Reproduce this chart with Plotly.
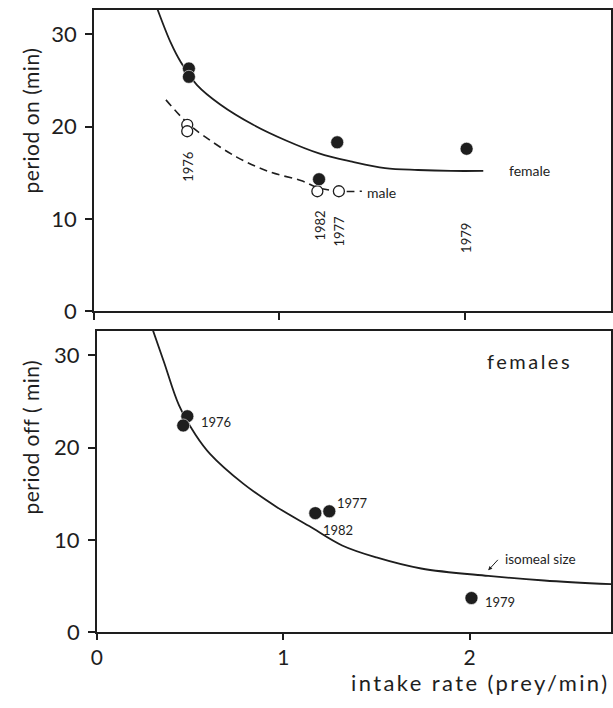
import plotly.graph_objects as go

# ---------------- data: top panel (period on) ----------------
on_female_x = [0.512, 0.512, 1.214, 1.312, 2.01]
on_female_y = [26.3, 25.4, 14.3, 18.3, 17.6]
on_male_x = [0.503, 0.503, 1.205, 1.321]
on_male_y = [20.2, 19.5, 13.0, 13.0]
on_year_labels = ["1976", "1982", "1977", "1979"]
on_year_x = [0.51, 1.22, 1.32, 2.01]
on_year_y = [15.6, 9.3, 8.7, 7.9]
female_curve_x = [0.343, 0.414, 0.468, 0.556, 0.681, 0.859, 1.036, 1.214, 1.392, 1.570, 1.748, 1.925, 2.10]
female_curve_y = [32.7, 29.1, 27.0, 24.5, 22.4, 20.2, 18.5, 17.1, 16.2, 15.5, 15.3, 15.2, 15.2]
male_curve_x = [0.388, 0.503, 0.592, 0.770, 0.948, 1.125, 1.205, 1.321, 1.445]
male_curve_y = [22.9, 20.4, 19.0, 16.7, 15.1, 14.1, 13.4, 13.0, 13.0]

# ---------------- data: bottom panel (period off) ----------------
off_x = [0.485, 0.463, 1.172, 1.247, 2.01]
off_y = [23.4, 22.4, 12.9, 13.1, 3.7]
off_year_labels = ["1976", "1977", "1982", "1979"]
off_year_x = [0.546, 1.28, 1.20, 2.07]
off_year_y = [22.8, 14.0, 11.1, 3.3]
isomeal_x = [0.299, 0.361, 0.440, 0.529, 0.608, 0.785, 0.962, 1.139, 1.316, 1.50, 1.74, 2.10, 2.40, 2.76]
isomeal_y = [32.8, 29.2, 24.6, 21.4, 19.3, 16.1, 13.6, 11.5, 9.4, 8.1, 6.9, 6.1, 5.6, 5.2]

y_ticks = [0, 10, 20, 30]
x_ticks = [0, 1, 2]

W, H = 613, 708
INK = "#1e1e1e"
FONT = "Lato"


def spaced(text, px):
    return f'<span style="letter-spacing:{px}px">{text}</span>'


fig = go.Figure()

# top panel
fig.add_trace(go.Scatter(x=female_curve_x, y=female_curve_y, mode="lines", line=dict(color=INK, width=1.8, shape="spline"),
                         xaxis="x", yaxis="y", hoverinfo="skip"))
fig.add_trace(go.Scatter(x=male_curve_x, y=male_curve_y, mode="lines", line=dict(color=INK, width=1.6, dash="8px,5px", shape="spline"),
                         xaxis="x", yaxis="y", hoverinfo="skip"))
fig.add_trace(go.Scatter(x=on_male_x, y=on_male_y, mode="markers",
                         marker=dict(symbol="circle", size=11, color="white", line=dict(color=INK, width=1.3)),
                         xaxis="x", yaxis="y"))
fig.add_trace(go.Scatter(x=on_female_x, y=on_female_y, mode="markers",
                         marker=dict(symbol="circle", size=13, color=INK, line=dict(color="white", width=0.6)),
                         xaxis="x", yaxis="y"))

# bottom panel
fig.add_trace(go.Scatter(x=isomeal_x, y=isomeal_y, mode="lines", line=dict(color=INK, width=1.8, shape="spline"),
                         xaxis="x2", yaxis="y2", hoverinfo="skip"))
fig.add_trace(go.Scatter(x=off_x, y=off_y, mode="markers",
                         marker=dict(symbol="circle", size=13, color=INK, line=dict(color="white", width=0.6)),
                         xaxis="x2", yaxis="y2"))

annotations = []
for t, x, y in zip(on_year_labels, on_year_x, on_year_y):
    annotations.append(dict(x=x, y=y, xref="x", yref="y", text=t, showarrow=False, textangle=-90,
                            xanchor="center", yanchor="middle", font=dict(family=FONT, size=13, color=INK)))
annotations.append(dict(x=2.23, y=15.3, xref="x", yref="y", text="female", showarrow=False, xanchor="left",
                        yanchor="middle", font=dict(family=FONT, size=14, color=INK)))
annotations.append(dict(x=1.46, y=12.9, xref="x", yref="y", text="male", showarrow=False, xanchor="left",
                        yanchor="middle", font=dict(family=FONT, size=14, color=INK)))
for t, x, y in zip(off_year_labels, off_year_x, off_year_y):
    annotations.append(dict(x=x, y=y, xref="x2", yref="y2", text=t, showarrow=False, xanchor="left",
                            yanchor="middle", font=dict(family=FONT, size=13, color=INK)))
annotations.append(dict(x=2.32, y=29.4, xref="x2", yref="y2", text=spaced("females", 2.5), showarrow=False,
                        xanchor="center", yanchor="middle", font=dict(family=FONT, size=20, color=INK)))
annotations.append(dict(x=2.18, y=7.9, xref="x2", yref="y2", text="isomeal size", showarrow=False, xanchor="left",
                        yanchor="middle", font=dict(family=FONT, size=13.5, color=INK)))
annotations.append(dict(x=2.10, y=6.7, xref="x2", yref="y2", text="", showarrow=True, arrowhead=2, arrowsize=0.8,
                        arrowwidth=1, arrowcolor=INK, ax=11, ay=-12))
annotations.append(dict(x=25 / W, y=1 - 123 / H, xref="paper", yref="paper", text=spaced("period on (min)", 0.5),
                        showarrow=False, textangle=-90, xanchor="center", yanchor="middle",
                        font=dict(family=FONT, size=21, color=INK)))
annotations.append(dict(x=25 / W, y=1 - 445 / H, xref="paper", yref="paper", text=spaced("period off ( min)", 0.5),
                        showarrow=False, textangle=-90, xanchor="center", yanchor="middle",
                        font=dict(family=FONT, size=21, color=INK)))
annotations.append(dict(x=479 / W, y=1 - 695 / H, xref="paper", yref="paper", text=spaced("intake rate (prey/min)", 2.4),
                        showarrow=False, xanchor="center", yanchor="middle", font=dict(family=FONT, size=22, color=INK)))

axis_common = dict(showgrid=False, zeroline=False, showline=True, linecolor=INK, linewidth=1.8,
                   ticks="outside", ticklen=7, tickwidth=1.6, tickcolor=INK,
                   tickfont=dict(family=FONT, size=22, color=INK), mirror=True, fixedrange=True)

fig.update_layout(
    width=W, height=H, margin=dict(l=0, r=0, t=0, b=0),
    paper_bgcolor="white", plot_bgcolor="white", showlegend=False,
    annotations=annotations,
    xaxis=dict(axis_common, domain=[89 / W, 612 / W], range=[0, 2.789], tickvals=x_ticks, showticklabels=False, anchor="y"),
    yaxis=dict(axis_common, domain=[1 - 317 / H, 1 - 10 / H], range=[0, 32.66], tickvals=y_ticks, anchor="x",
               ticklabelstandoff=4),
    xaxis2=dict(axis_common, domain=[92 / W, 612 / W], range=[0, 2.759], tickvals=x_ticks, anchor="y2",
                ticklen=6, tickfont=dict(family=FONT, size=21, color=INK)),
    yaxis2=dict(axis_common, domain=[1 - 644 / H, 1 - 337 / H], range=[0, 32.66], tickvals=y_ticks, anchor="x2",
                ticklabelstandoff=4),
)

fig.write_html("out.html", config={"displayModeBar": False},
               post_script="document.body.style.margin='0';document.body.style.padding='0';")
